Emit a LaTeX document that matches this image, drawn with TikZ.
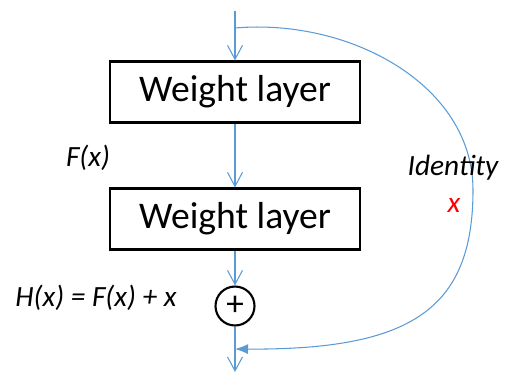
\documentclass[tikz,border=0pt]{standalone}
\usepackage{fontspec}
\setmainfont{Carlito}
\usetikzlibrary{arrows.meta}
\definecolor{linkblue}{RGB}{91,155,213}
\begin{document}
\begin{tikzpicture}[x=0.02cm, y=-0.02cm,
    layer/.style={draw, line width=1.2pt, minimum width=5cm, minimum height=1.22cm, font=\fontsize{21.4}{24}\selectfont},
    sumnode/.style={draw, circle, line width=1.2pt, minimum size=0.78cm, inner sep=0pt, font=\fontsize{20}{22}\selectfont},
    flow/.style={linkblue, line width=0.6pt, -{Straight Barb[length=0.28cm, width=0.3cm]}},
    lbl/.style={font=\fontsize{16.7}{19}\selectfont\itshape}]
    \useasboundingbox (0,0) rectangle (506,373);

    % main path
    \coordinate (in) at (235,11);
    \coordinate (split) at (235,28);
    \node[layer] (w1) at (235,92) {Weight layer};
    \node[layer] (w2) at (235,219) {Weight layer};
    \node[sumnode] (add) at (235,306) {+};
    \coordinate (join) at (235,349);
    \coordinate (out) at (235,372);

    \draw[flow] (in) -- (w1.north);
    \draw[flow] (w1.south) -- (w2.north);
    \draw[flow] (w2.south) -- (add.north);
    \draw[flow] (add.south) -- (out);

    % shortcut
    \draw[linkblue, line width=0.6pt, -{Latex[length=0.26cm, width=0.2cm]}]
        (split) .. controls (350,18) and (473,85) .. (473,190)
        .. controls (473,310) and (410,350) .. (join);

    % labels
    \node[lbl] (fx) at (88,158) {F(x)};
    \node[lbl] (hx) at (96,298) {H(x) = F(x) + x};
    \node[lbl] (idt) at (453,168) {Identity};
    \node[lbl, red] (xid) at (454,205) {x};
\end{tikzpicture}
\end{document}
